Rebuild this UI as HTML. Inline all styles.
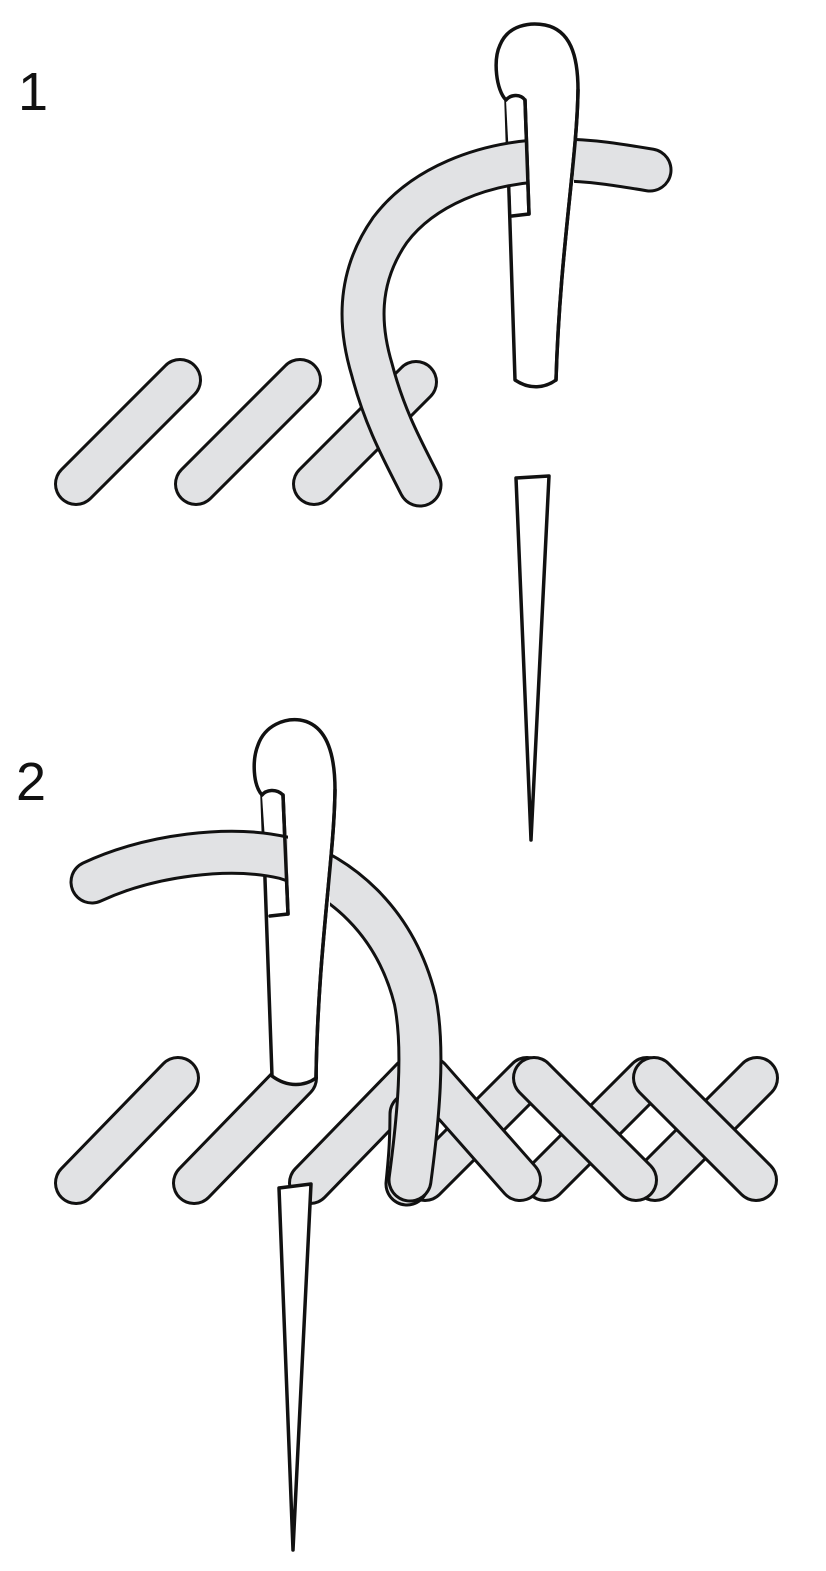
<!DOCTYPE html>
<html><head><meta charset="utf-8"><style>
html,body{margin:0;padding:0;background:#fff;}
svg{display:block;}
text{font-family:"Liberation Sans",sans-serif;font-size:54px;fill:#111;}
</style></head><body>
<svg width="826" height="1571" viewBox="0 0 826 1571" xmlns="http://www.w3.org/2000/svg">
<defs>
<clipPath id="c1"><rect x="0" y="0" width="527" height="600"/><rect x="574" y="0" width="200" height="600"/></clipPath>
<clipPath id="c2"><rect x="0" y="700" width="288" height="300"/><rect x="330" y="700" width="300" height="600"/></clipPath>
</defs>
<g fill="none" stroke-linecap="round" stroke-linejoin="round">
<g>
<path d="M76,484 L180,380" stroke="#111" stroke-width="44"/><path d="M76,484 L180,380" stroke="#e1e2e4" stroke-width="38"/>
<path d="M196,484 L300,380" stroke="#111" stroke-width="44"/><path d="M196,484 L300,380" stroke="#e1e2e4" stroke-width="38"/>
<path d="M314,484 L416,382" stroke="#111" stroke-width="44"/><path d="M314,484 L416,382" stroke="#e1e2e4" stroke-width="38"/>
</g>
<path d="M515,380 L506,100 C496,90 493,60 500,45 C508,25 530,22 545,25 C570,30 578,55 578,90 C577,160 560,250 556,380 C545,388 530,390 515,380 Z" fill="#fff" stroke="#111" stroke-width="3.5"/>
<path d="M506,100 C510,95 520,93 525,100 L529,214 L512,216" fill="#fff" stroke="#111" stroke-width="3.5"/>
<g clip-path="url(#c1)">
<path d="M650,170 C620,165 590,160 560,160 C480,160 420,190 390,230 C355,280 360,330 372,370 C385,420 405,455 420,485" stroke="#111" stroke-width="45"/>
<path d="M650,170 C620,165 590,160 560,160 C480,160 420,190 390,230 C355,280 360,330 372,370 C385,420 405,455 420,485" stroke="#e1e2e4" stroke-width="39"/>
</g>
<path d="M578,90 C577,160 560,250 556,380" stroke="#111" stroke-width="3.5"/>
<line x1="525" y1="100" x2="529" y2="214" stroke="#111" stroke-width="3.5"/>
<path d="M516,478 L549,476 L531,840 Z" fill="#fff" stroke="#111" stroke-width="3.5"/>

<path d="M76,1183 L178,1078" stroke="#111" stroke-width="44"/><path d="M76,1183 L178,1078" stroke="#e1e2e4" stroke-width="38"/>
<path d="M194,1183 L296,1078" stroke="#111" stroke-width="44"/><path d="M194,1183 L296,1078" stroke="#e1e2e4" stroke-width="38"/>
<path d="M310,1183 L412,1078" stroke="#111" stroke-width="44"/><path d="M310,1183 L412,1078" stroke="#e1e2e4" stroke-width="38"/>
<path d="M425,1180 L527,1078" stroke="#111" stroke-width="44"/><path d="M425,1180 L527,1078" stroke="#e1e2e4" stroke-width="38"/>
<path d="M545,1180 L647,1078" stroke="#111" stroke-width="44"/><path d="M545,1180 L647,1078" stroke="#e1e2e4" stroke-width="38"/>
<path d="M655,1180 L757,1078" stroke="#111" stroke-width="44"/><path d="M655,1180 L757,1078" stroke="#e1e2e4" stroke-width="38"/>
<path d="M430,1078 L520,1180" stroke="#111" stroke-width="44"/><path d="M430,1078 L520,1180" stroke="#e1e2e4" stroke-width="38"/>
<path d="M534,1078 L636,1180" stroke="#111" stroke-width="44"/><path d="M534,1078 L636,1180" stroke="#e1e2e4" stroke-width="38"/>
<path d="M654,1078 L756,1180" stroke="#111" stroke-width="44"/><path d="M654,1078 L756,1180" stroke="#e1e2e4" stroke-width="38"/>
<path d="M416,1110 C416,1140 414,1160 412,1180" stroke="#111" stroke-width="45" transform="translate(-5,4)"/>
<path d="M416,1110 C416,1140 414,1160 412,1180" stroke="#e1e2e4" stroke-width="39" transform="translate(-5,4)"/>
<path d="M272,1076 L262,795 C253,785 252,760 258,745 C265,725 285,718 300,720 C325,724 335,750 335,790 C334,860 318,950 316,1078 C305,1086 288,1088 272,1076 Z" fill="#fff" stroke="#111" stroke-width="3.5"/>
<path d="M262,795 C266,790 276,788 283,795 L288,914 L270,916" fill="#fff" stroke="#111" stroke-width="3.5"/>
<g clip-path="url(#c2)">
<path d="M92,882 C150,855 230,845 285,858 C340,875 395,920 415,1000 C425,1050 418,1120 410,1180" stroke="#111" stroke-width="45"/>
<path d="M92,882 C150,855 230,845 285,858 C340,875 395,920 415,1000 C425,1050 418,1120 410,1180" stroke="#e1e2e4" stroke-width="39"/>
</g>
<path d="M335,790 C334,860 318,950 316,1078" stroke="#111" stroke-width="3.5"/>
<line x1="283" y1="795" x2="288" y2="914" stroke="#111" stroke-width="3.5"/>
<path d="M279,1188 L311,1184 L293,1550 Z" fill="#fff" stroke="#111" stroke-width="3.5"/>
</g>
<text x="18" y="110">1</text>
<text x="16" y="800">2</text>
</svg>
</body></html>
